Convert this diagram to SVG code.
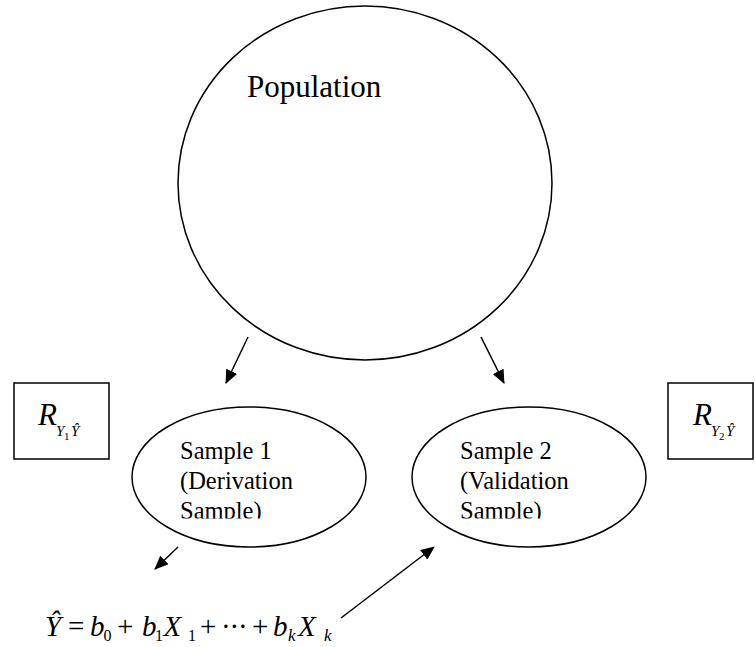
<svg xmlns="http://www.w3.org/2000/svg" width="755" height="647" viewBox="0 0 755 647">
<style>
.sh{fill:none;stroke:#000;stroke-width:1.5}
.t{font-family:"Liberation Serif","Times New Roman",serif;fill:#000}
.i{font-style:italic}
.cn{stroke:#000;stroke-width:1.5;fill:none;marker-end:url(#ah)}
</style>
<defs>
<marker id="ah" viewBox="0 0 14 12" refX="13" refY="6" markerWidth="14" markerHeight="12" markerUnits="userSpaceOnUse" orient="auto">
<path d="M0,0 L14,6 L0,12 z" fill="#000"/>
</marker>
<clipPath id="c1"><rect x="0" y="0" width="755" height="518.5"/></clipPath>
</defs>
<rect width="755" height="647" fill="#fff"/>
<g id="population">
<ellipse class="sh" cx="365" cy="183" rx="187" ry="177"/>
<text class="t" x="247" y="97" font-size="31">Population</text>
</g>
<g id="sample1">
<ellipse class="sh" cx="249" cy="477" rx="117" ry="70"/>
<g clip-path="url(#c1)">
<text class="t" x="180" y="459" font-size="24.5">Sample 1</text>
<text class="t" x="180" y="489" font-size="24.5">(Derivation</text>
<text class="t" x="180" y="519" font-size="24.5">Sample)</text>
</g>
</g>
<g id="sample2">
<ellipse class="sh" cx="529" cy="477" rx="117" ry="70"/>
<g clip-path="url(#c1)">
<text class="t" x="460" y="459" font-size="24.5">Sample 2</text>
<text class="t" x="460" y="489" font-size="24.5">(Validation</text>
<text class="t" x="460" y="519" font-size="24.5">Sample)</text>
</g>
</g>
<g id="r1">
<rect class="sh" x="14" y="383" width="95" height="76"/>
<text class="t i" x="38" y="425" font-size="31">R</text>
<text class="t i" x="56" y="436" font-size="15">Y</text>
<text class="t" x="64" y="440" font-size="11">1</text>
<text class="t i" x="71" y="436" font-size="15">Ŷ</text>
</g>
<g id="r2">
<rect class="sh" x="668" y="383" width="85" height="76"/>
<text class="t i" x="693" y="425" font-size="31">R</text>
<text class="t i" x="711" y="436" font-size="15">Y</text>
<text class="t" x="719" y="440" font-size="11">2</text>
<text class="t i" x="726" y="436" font-size="15">Ŷ</text>
</g>
<g id="equation">
<text class="t i" x="45" y="636" font-size="29">Ŷ</text>
<text class="t" x="68" y="636" font-size="29">=</text>
<text class="t i" x="90" y="636" font-size="29">b</text>
<text class="t" x="103.5" y="641" font-size="16">0</text>
<text class="t" x="117" y="636" font-size="29">+</text>
<text class="t i" x="142" y="636" font-size="29">b</text>
<text class="t" x="155" y="641" font-size="16">1</text>
<text class="t i" x="163.5" y="636" font-size="29">X</text>
<text class="t" x="188" y="641" font-size="16">1</text>
<text class="t" x="200" y="636" font-size="29">+</text>
<text class="t" x="221 229.5 238" y="636" font-size="29">···</text>
<text class="t" x="252" y="636" font-size="29">+</text>
<text class="t i" x="273" y="636" font-size="29">b</text>
<text class="t i" x="288" y="641" font-size="17">k</text>
<text class="t i" x="298" y="636" font-size="29">X</text>
<text class="t i" x="324" y="641" font-size="17">k</text>
</g>
<g id="connectors">
<line class="cn" x1="248" y1="337" x2="226" y2="383"/>
<line class="cn" x1="481" y1="337" x2="504" y2="383"/>
<line class="cn" x1="178" y1="547" x2="155" y2="569"/>
<line class="cn" x1="341" y1="618" x2="434" y2="547"/>
</g>
</svg>
